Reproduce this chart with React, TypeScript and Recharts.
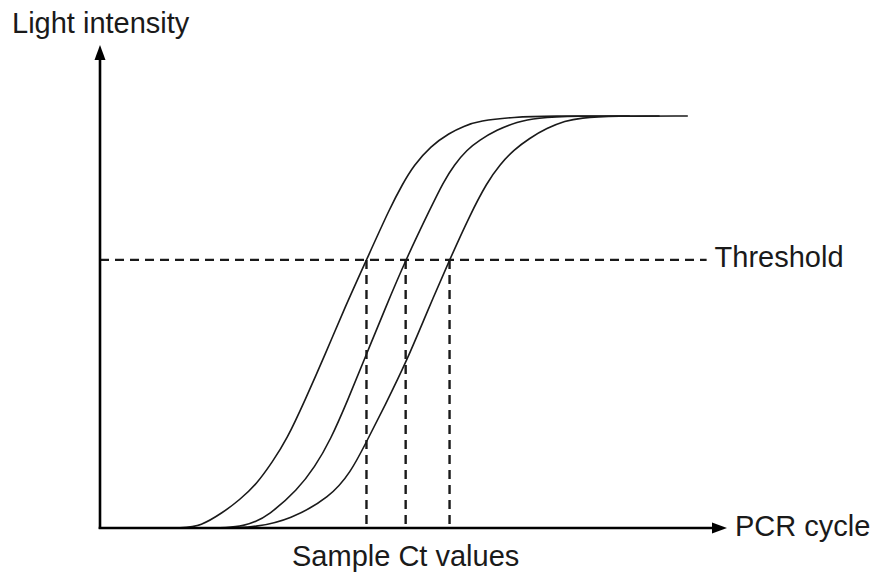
import { LineChart, Line, XAxis, YAxis, ReferenceLine } from "recharts";

// amplification curves: cycle vs. light intensity
const sampleA = [
  { cycle: 2.6, intensity: -0.2 },
  { cycle: 5.4, intensity: 0 },
  { cycle: 6.4, intensity: 0.4 },
  { cycle: 7.8, intensity: 3.1 },
  { cycle: 8.9, intensity: 5.8 },
  { cycle: 10.0, intensity: 9.1 },
  { cycle: 11.0, intensity: 13.7 },
  { cycle: 11.9, intensity: 18.2 },
  { cycle: 13.1, intensity: 26.6 },
  { cycle: 14.4, intensity: 36.2 },
  { cycle: 15.6, intensity: 45.5 },
  { cycle: 17.0, intensity: 55.5 },
  { cycle: 18.5, intensity: 66.3 },
  { cycle: 19.3, intensity: 71.2 },
  { cycle: 20.0, intensity: 75.0 },
  { cycle: 21.1, intensity: 79.1 },
  { cycle: 22.3, intensity: 81.8 },
  { cycle: 23.2, intensity: 83.2 },
  { cycle: 24.2, intensity: 84.3 },
  { cycle: 26.4, intensity: 85.1 },
  { cycle: 28.7, intensity: 85.3 },
  { cycle: 33.8, intensity: 85.3 },
];

const sampleB = [
  { cycle: 3.2, intensity: -0.2 },
  { cycle: 6.4, intensity: -0.2 },
  { cycle: 9.4, intensity: 0.2 },
  { cycle: 10.8, intensity: 2.7 },
  { cycle: 12.6, intensity: 7.9 },
  { cycle: 13.7, intensity: 12.6 },
  { cycle: 14.7, intensity: 18.2 },
  { cycle: 15.8, intensity: 26.4 },
  { cycle: 17.0, intensity: 36.0 },
  { cycle: 18.2, intensity: 45.5 },
  { cycle: 19.5, intensity: 55.5 },
  { cycle: 21.1, intensity: 66.3 },
  { cycle: 21.9, intensity: 71.6 },
  { cycle: 22.6, intensity: 75.2 },
  { cycle: 23.4, intensity: 78.3 },
  { cycle: 24.2, intensity: 80.3 },
  { cycle: 25.3, intensity: 82.4 },
  { cycle: 26.6, intensity: 84.1 },
  { cycle: 27.9, intensity: 84.9 },
  { cycle: 30.0, intensity: 85.3 },
  { cycle: 35.7, intensity: 85.3 },
];

const sampleC = [
  { cycle: 3.8, intensity: -0.2 },
  { cycle: 7.7, intensity: -0.2 },
  { cycle: 10.0, intensity: 0.2 },
  { cycle: 12.1, intensity: 1.7 },
  { cycle: 14.7, intensity: 6.4 },
  { cycle: 16.0, intensity: 11.6 },
  { cycle: 16.9, intensity: 17.2 },
  { cycle: 18.2, intensity: 25.5 },
  { cycle: 19.6, intensity: 34.8 },
  { cycle: 20.9, intensity: 45.0 },
  { cycle: 22.3, intensity: 55.5 },
  { cycle: 23.6, intensity: 64.8 },
  { cycle: 24.7, intensity: 71.6 },
  { cycle: 25.5, intensity: 75.2 },
  { cycle: 26.4, intensity: 78.3 },
  { cycle: 27.4, intensity: 80.7 },
  { cycle: 28.5, intensity: 82.8 },
  { cycle: 29.7, intensity: 84.3 },
  { cycle: 30.6, intensity: 84.9 },
  { cycle: 32.7, intensity: 85.3 },
  { cycle: 37.5, intensity: 85.3 },
];

const ctValues = [17.0, 19.5, 22.3];
const threshold = 55.5;
const thresholdEnd = 38.7;
const xMax = 40;
const yMax = 100;

const FONT = "'Liberation Sans', Arial, sans-serif";
const INK = "#1a1a1a";

const textStyle = { fontFamily: FONT, fontSize: 29, fill: INK };

function YArrow(p: any) {
  const x = p.x1;
  const top = Math.min(p.y1, p.y2);
  const bottom = Math.max(p.y1, p.y2);
  return (
    <g>
      <line x1={x} y1={bottom + 1} x2={x} y2={top + 12} stroke="#000" strokeWidth={2.6} />
      <polygon points={`${x},${top} ${x - 5.5},${top + 15} ${x + 5.5},${top + 15}`} fill="#000" />
      <text x={x - 88} y={top - 12} style={textStyle}>
        Light intensity
      </text>
    </g>
  );
}

function XArrow(p: any) {
  const y = p.y1;
  const left = Math.min(p.x1, p.x2);
  const right = Math.max(p.x1, p.x2);
  return (
    <g>
      <line x1={left - 1.3} y1={y} x2={right - 12} y2={y} stroke="#000" strokeWidth={2.6} />
      <polygon points={`${right},${y} ${right - 15},${y - 5.5} ${right - 15},${y + 5.5}`} fill="#000" />
      <text x={right + 8} y={y + 8} style={textStyle}>
        PCR cycle
      </text>
    </g>
  );
}

function ThresholdLine(p: any) {
  const left = Math.min(p.x1, p.x2);
  const right = Math.max(p.x1, p.x2);
  return (
    <g>
      <line x1={left} y1={p.y1} x2={right} y2={p.y2} stroke={INK} strokeWidth={2.2} strokeDasharray="9 6" />
      <text x={right + 8} y={p.y1 + 7} style={textStyle}>
        Threshold
      </text>
    </g>
  );
}

function CtLine(p: any, withLabel: boolean) {
  const top = Math.min(p.y1, p.y2);
  const bottom = Math.max(p.y1, p.y2);
  return (
    <g>
      <line x1={p.x1} y1={top} x2={p.x2} y2={bottom} stroke={INK} strokeWidth={2.4} strokeDasharray="9 6" />
      {withLabel && (
        <text x={p.x1} y={bottom + 38} textAnchor="middle" style={textStyle}>
          Sample Ct values
        </text>
      )}
    </g>
  );
}

export default function App() {
  const curves = [sampleA, sampleB, sampleC];
  return (
    <div style={{ position: "absolute", left: 0, top: 0, background: "#fff" }}>
      <LineChart width={875} height={574} margin={{ top: 45, right: 148, bottom: 46, left: 100 }}>
        <XAxis type="number" dataKey="cycle" domain={[0, xMax]} allowDataOverflow hide />
        <YAxis type="number" dataKey="intensity" domain={[0, yMax]} allowDataOverflow hide />
        <ReferenceLine
          segment={[{ x: 0, y: threshold }, { x: thresholdEnd, y: threshold }]}
          shape={ThresholdLine}
        />
        {ctValues.map((ct, i) => (
          <ReferenceLine
            key={ct}
            segment={[{ x: ct, y: threshold }, { x: ct, y: 0 }]}
            shape={(p: any) => CtLine(p, i === 1)}
          />
        ))}
        {curves.map((c, i) => (
          <Line
            key={i}
            data={c}
            dataKey="intensity"
            type="basis"
            dot={false}
            stroke={INK}
            strokeWidth={1.6}
            isAnimationActive={false}
          />
        ))}
        <ReferenceLine segment={[{ x: 0, y: 0 }, { x: 0, y: yMax }]} shape={YArrow} />
        <ReferenceLine segment={[{ x: 0, y: 0 }, { x: xMax, y: 0 }]} shape={XArrow} />
      </LineChart>
    </div>
  );
}
